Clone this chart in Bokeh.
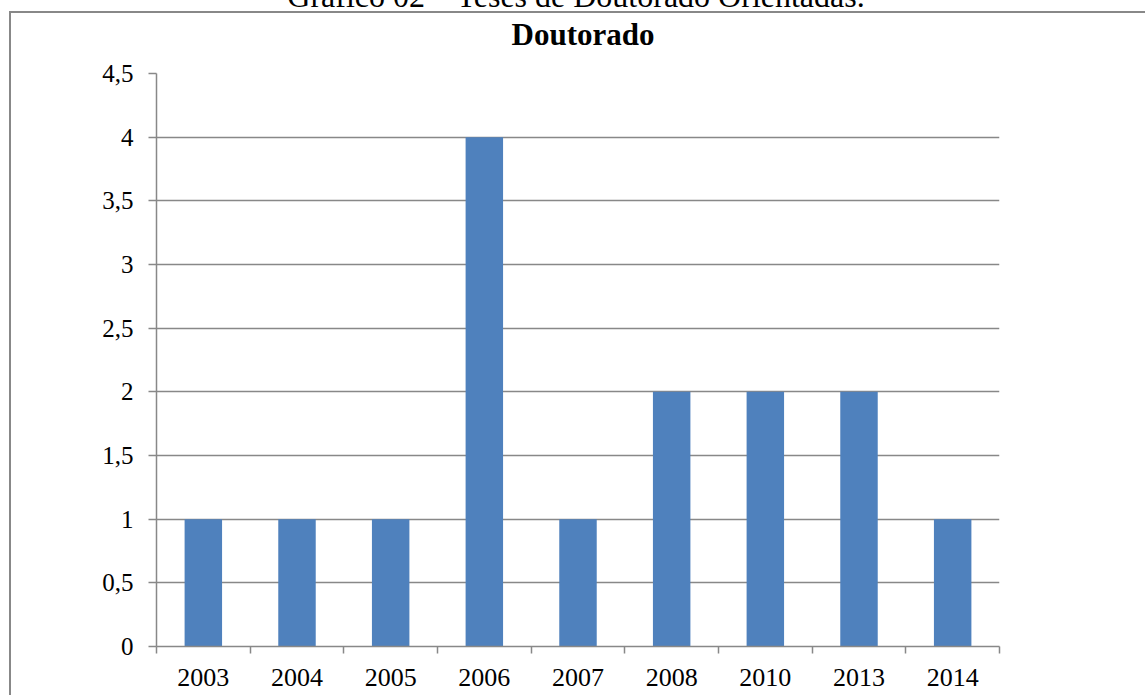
from bokeh.plotting import figure
from bokeh.models import Range1d, FixedTicker, Div
from bokeh.layouts import column
from bokeh.embed import file_html
from bokeh.resources import INLINE

# ---- data ----
years = ["2003", "2004", "2005", "2006", "2007", "2008", "2010", "2013", "2014"]
teses = [1, 1, 1, 4, 1, 2, 2, 2, 1]
y_ticks = [0, 0.5, 1, 1.5, 2, 2.5, 3, 3.5, 4, 4.5]
y_tick_labels = ["0", "0,5", "1", "1,5", "2", "2,5", "3", "3,5", "4", "4,5"]
chart_title = "Doutorado"
caption = "Gráfico 02 – Teses de Doutorado Orientadas."

FONT = "Liberation Serif"
GRAY = "#888888"
BLUE = "#4F81BD"

W, H = 1145, 695
HEAD = 60                      # height of the heading block above the plot
FL, FR, FT, FB = 156, 999, 73, 646   # frame edges in page pixels

n = len(years)
x_centers = [i + 0.5 for i in range(n)]
y_max = y_ticks[-1]

# ---- heading: cut-off caption + chart title ----
head_html = (
    f'<div style="position:relative;width:{W}px;height:{HEAD}px;overflow:hidden;'
    f'font-family:\'{FONT}\';color:black;">'
    f'<div style="position:absolute;left:0;top:-20px;width:1152px;font-size:32px;'
    f'line-height:32px;text-align:center;white-space:nowrap;">{caption}</div>'
    f'<div style="position:absolute;left:0;top:19px;width:1166px;font-size:31px;'
    f'line-height:31px;font-weight:bold;text-align:center;white-space:nowrap;">{chart_title}</div>'
    f'</div>'
)
head = Div(text=head_html, width=W, height=HEAD, margin=0)

# ---- plot ----
p = figure(width=W, height=H - HEAD,
           x_range=Range1d(0, n), y_range=Range1d(0, y_max),
           output_backend="svg", toolbar_location=None,
           min_border_left=FL, min_border_right=W - FR,
           min_border_top=FT - HEAD, min_border_bottom=H - FB)
p.margin = 0
p.outline_line_color = None
p.background_fill_color = None
p.border_fill_color = None

p.vbar(x=x_centers, top=teses, width=0.4, bottom=0,
       fill_color=BLUE, line_color=None)

# grid
p.xgrid.grid_line_color = None
p.ygrid.ticker = FixedTicker(ticks=y_ticks)
p.ygrid.grid_line_color = GRAY
p.ygrid.grid_line_width = 1.5

# y axis
ya = p.yaxis[0]
ya.ticker = FixedTicker(ticks=y_ticks)
ya.major_label_overrides = {float(t): l for t, l in zip(y_ticks, y_tick_labels)}
ya.axis_line_color = GRAY
ya.axis_line_width = 1.5
ya.major_tick_line_color = GRAY
ya.major_tick_line_width = 1.5
ya.major_tick_out = 8
ya.major_tick_in = 0
ya.minor_tick_line_color = None
ya.major_label_standoff = 15
ya.major_label_text_font = FONT
ya.major_label_text_font_size = "25px"
ya.major_label_text_color = "black"

# x axis: labels at category centres, ticks at category boundaries
xa = p.xaxis[0]
xa.ticker = FixedTicker(ticks=x_centers, minor_ticks=list(range(n + 1)))
xa.major_label_overrides = {float(x): y for x, y in zip(x_centers, years)}
xa.axis_line_color = GRAY
xa.axis_line_width = 1.5
xa.major_tick_line_color = None
xa.major_tick_out = 0
xa.major_tick_in = 0
xa.minor_tick_line_color = GRAY
xa.minor_tick_line_width = 1.5
xa.minor_tick_out = 7
xa.minor_tick_in = 0
xa.major_label_standoff = 15
xa.major_label_text_font = FONT
xa.major_label_text_font_size = "26px"
xa.major_label_text_color = "black"

# page with the chart's border box (left and top edges; the rest runs off the page)
layout = column(head, p, spacing=0, styles={
    "background-color": "white",
    "background-image": f"linear-gradient({GRAY}, {GRAY}), linear-gradient({GRAY}, {GRAY})",
    "background-position": "9px 11px, 9px 11px",
    "background-size": "2px 100%, 100% 2px",
    "background-repeat": "no-repeat",
})

open("out.html", "w").write(file_html(layout, INLINE))
